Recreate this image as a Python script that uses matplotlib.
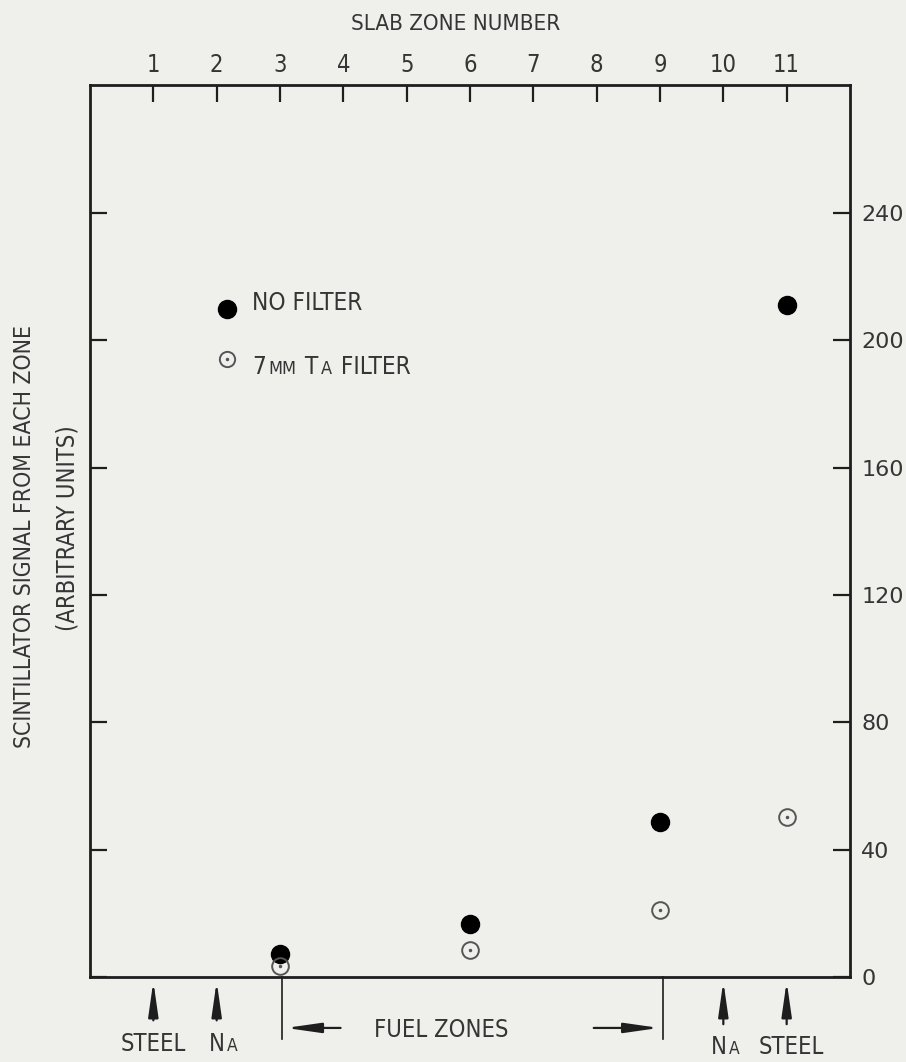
import matplotlib.pyplot as plt
from matplotlib.offsetbox import TextArea, HPacker, AnnotationBbox

# slab zone data
zones = [3, 6, 9, 11]
no_filter = [7.3, 16.5, 48.7, 211.0]
ta_filter = [3.6, 8.5, 21.1, 50.3]
zone_ticks = list(range(1, 12))
signal_ticks = [0, 40, 80, 120, 160, 200, 240]

ink = '#353535'
line = '#1e1e1e'
bg = '#efefec'
font = ['DejaVu Sans']
plt.rcParams['font.family'] = font
plt.rcParams['font.stretch'] = 'condensed'

fig = plt.figure(figsize=(9.06, 10.62), dpi=100, facecolor=bg)
ax = fig.add_axes([90/906, 85/1062, 760/906, 892/1062])
ax.set_facecolor(bg)
ax.set_xlim(0, 12)
ax.set_ylim(0, 280.2)

for s in ax.spines.values():
    s.set_color(line)
    s.set_linewidth(2)

# data points
ax.plot(zones, no_filter, 'o', color='black', markersize=13, clip_on=False)
ax.plot(zones, ta_filter, 'o', mfc='none', mec='#555555', mew=1.4, markersize=12, clip_on=False)
ax.plot(zones, ta_filter, '.', color='#555555', markersize=3, clip_on=False)

# axes: zone numbers on top, signal on right
ax.xaxis.tick_top()
ax.set_xticks(zone_ticks)
ax.set_xticklabels([str(z) for z in zone_ticks])
ax.tick_params(axis='x', which='both', top=True, bottom=False, direction='in',
               length=12, width=1.6, pad=6, labelsize=17, labelcolor=ink, color=line)
ax.set_yticks(signal_ticks)
ax.tick_params(axis='y', which='both', left=True, right=True, direction='in',
               length=12, width=1.6, labelleft=False, labelright=True, pad=8,
               labelsize=16, labelcolor=ink, color=line)
for lab in ax.get_yticklabels():
    lab.set_fontstretch('normal')

fig.text(456/906, 1 - 24/1062, 'SLAB ZONE NUMBER', ha='center', va='center',
         fontsize=16, color=ink)
fig.text(25/906, 1 - 536/1062, 'SCINTILLATOR SIGNAL FROM EACH ZONE', rotation=90,
         ha='center', va='center', fontsize=16.5, color=ink)
fig.text(68/906, 1 - 528/1062, '(ARBITRARY UNITS)', rotation=90,
         ha='center', va='center', fontsize=17, color=ink)


def small_caps(parts, xy, ha_box=0.0):
    # parts: list of (text, size)
    areas = [TextArea(t, textprops=dict(fontsize=sz, color=ink, family=font,
                                        stretch='condensed')) for t, sz in parts]
    box = HPacker(children=areas, align='baseline', pad=0, sep=1.5)
    ab = AnnotationBbox(box, xy, xycoords='data', frameon=False,
                        box_alignment=(ha_box, 0.5), annotation_clip=False)
    ax.add_artist(ab)


# legend
ax.plot([2.17], [209.9], 'o', color='black', markersize=13)
ax.plot([2.17], [194.2], 'o', mfc='none', mec='#555555', mew=1.4, markersize=11)
ax.plot([2.17], [194.2], '.', color='#555555', markersize=3)
ax.text(2.56, 211.6, 'NO FILTER', fontsize=17.5, color=ink, va='center')
small_caps([('7', 17.5), ('MM', 13), (' T', 17.5), ('A', 13), (' FILTER', 17.5)],
           (2.56, 191.6))

arrow = dict(arrowstyle='-|>,head_length=2.1,head_width=0.3', color=line, lw=1.6)

# material arrows below the plot
for zx, y0 in [(1, -14.5), (2, -14.5), (10, -15.7), (11, -15.7)]:
    ax.annotate('', xy=(zx, -0.5), xytext=(zx, y0), annotation_clip=False, arrowprops=arrow)
ax.text(1, -21, 'STEEL', ha='center', va='center', fontsize=17, color=ink)
small_caps([('N', 17), ('A', 12.5)], (2.1, -21), ha_box=0.5)
small_caps([('N', 17), ('A', 12.5)], (10.03, -22.1), ha_box=0.5)
ax.text(11.08, -22.1, 'STEEL', ha='center', va='center', fontsize=17, color=ink)

# fuel zone bracket
for zx in (3.03, 9.04):
    ax.plot([zx, zx], [0, -19.5], color=line, lw=1.2, clip_on=False)
ax.annotate('', xy=(3.05, -16.0), xytext=(4.0, -16.0), annotation_clip=False, arrowprops=arrow)
ax.annotate('', xy=(9.03, -16.0), xytext=(7.91, -16.0), annotation_clip=False, arrowprops=arrow)
ax.text(5.55, -16.6, 'FUEL ZONES', ha='center', va='center', fontsize=17, color=ink)

fig.savefig('out.png', dpi=100, facecolor=bg)
